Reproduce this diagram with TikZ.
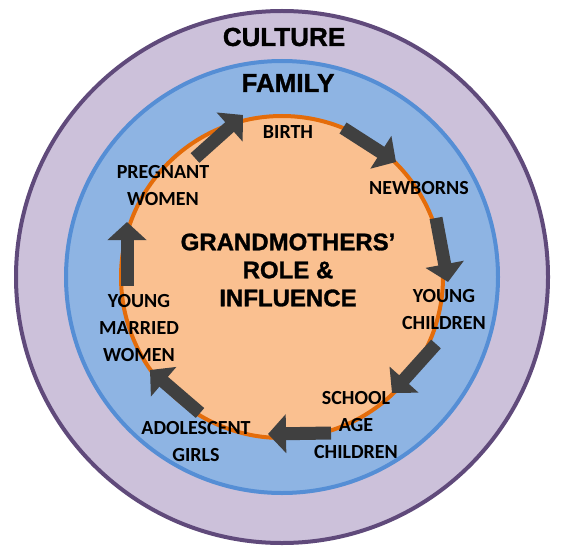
\documentclass[tikz,border=0pt]{standalone}
\usepackage{fontspec}
\setmainfont{Carlito}
\newfontfamily\headfont{Liberation Sans}[BoldFeatures={FakeBold=1.3}]
\usetikzlibrary{arrows.meta}
\definecolor{Lilac}{HTML}{CCC1DA}
\definecolor{Plum}{HTML}{604A7B}
\definecolor{Sky}{HTML}{8EB4E3}
\definecolor{SkyLine}{HTML}{558ED5}
\definecolor{Peach}{HTML}{FAC090}
\definecolor{Rust}{HTML}{E46C0A}
\definecolor{Slate}{HTML}{404040}
\tikzset{
  ring/.style={line width=4pt},
  stage/.style={align=center,font=\bfseries\fontsize{20}{27}\selectfont,text=black,inner sep=0pt},
  headline/.style={font=\headfont\bfseries\fontsize{26}{30}\selectfont,text=black,inner sep=0pt},
  core/.style={align=center,font=\headfont\bfseries\fontsize{24}{28}\selectfont,text=black,inner sep=0pt},
  cycle/.style={-{Triangle[width=38pt,length=18pt]},draw=Slate,line width=13pt}
}

\begin{document}
\begin{tikzpicture}[x=1pt,y=-1pt]
  \useasboundingbox[fill=white] (0,0) rectangle (564,559);
  \coordinate (mid) at (282,277);
  \draw[ring,draw=Plum,fill=Lilac] (mid) circle[radius=266pt];
  \draw[ring,draw=SkyLine,fill=Sky] (mid) circle[radius=216pt];
  \draw[ring,draw=Rust,fill=Peach] (mid) circle[radius=161pt];

  \node[headline] (culture) at (284,37) {CULTURE};
  \node[headline] (family) at (288,83) {FAMILY};
  \node[core] (grand) at (288,270) {GRANDMOTHERS’\\ROLE \&\\INFLUENCE};

  \node[stage] (birth) at (288,132) {BIRTH};
  \node[stage] (newborns) at (419,188) {NEWBORNS};
  \node[stage] (young) at (444,310) {YOUNG\\CHILDREN};
  \node[stage] (school) at (356,425) {SCHOOL\\AGE\\CHILDREN};
  \node[stage] (teen) at (196,442) {ADOLESCENT\\GIRLS};
  \node[stage] (married) at (139,328) {YOUNG\\MARRIED\\WOMEN};
  \node[stage] (pregnant) at (163,186) {PREGNANT\\WOMEN};

  \coordinate (a1) at (195,158); \coordinate (b1) at (243,115);
  \coordinate (a2) at (343,128); \coordinate (b2) at (396,162);
  \coordinate (a3) at (436,218); \coordinate (b3) at (448,282);
  \coordinate (a4) at (436,344); \coordinate (b4) at (392,393);
  \coordinate (a5) at (331,433); \coordinate (b5) at (268,434);
  \coordinate (a6) at (200,413); \coordinate (b6) at (150,370);
  \coordinate (a7) at (127,286); \coordinate (b7) at (127,222);
  \foreach \i in {1,...,7}
    \draw[cycle] (a\i) -- (b\i);
\end{tikzpicture}
\end{document}
